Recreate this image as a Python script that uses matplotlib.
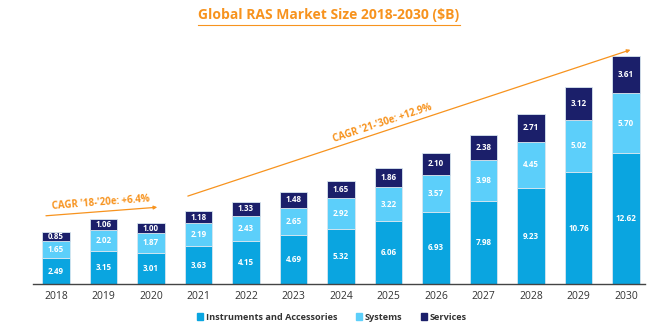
import matplotlib.pyplot as plt
from matplotlib.lines import Line2D
from matplotlib.patches import Patch

years = ['2018', '2019', '2020', '2021', '2022', '2023', '2024', '2025', '2026', '2027', '2028', '2029', '2030']
instruments = [2.49, 3.15, 3.01, 3.63, 4.15, 4.69, 5.32, 6.06, 6.93, 7.98, 9.23, 10.76, 12.62]
systems = [1.65, 2.02, 1.87, 2.19, 2.43, 2.65, 2.92, 3.22, 3.57, 3.98, 4.45, 5.02, 5.70]
services = [0.85, 1.06, 1.00, 1.18, 1.33, 1.48, 1.65, 1.86, 2.10, 2.38, 2.71, 3.12, 3.61]

c_inst = '#0aa5e0'
c_sys = '#5ccffa'
c_serv = '#1b1f6a'
orange = '#f7931e'

plt.rcParams['font.family'] = ['Open Sans', 'DejaVu Sans']

fig = plt.figure(figsize=(6.57, 3.29), dpi=100)
# axes spans px 33..645 horizontally, baseline at px 284
ax = fig.add_axes([33 / 657, 45 / 329, 612 / 657, 244 / 329])

x = list(range(len(years)))
w = 0.57
ax.bar(x, instruments, w, color=c_inst, edgecolor='#d8e6ef', linewidth=0.6)
bot2 = [a for a in instruments]
ax.bar(x, systems, w, bottom=bot2, color=c_sys, edgecolor='#d8e6ef', linewidth=0.6)
bot3 = [a + b for a, b in zip(instruments, systems)]
ax.bar(x, services, w, bottom=bot3, color=c_serv, edgecolor='#d8e6ef', linewidth=0.6)

for i in x:
    ax.text(i, instruments[i] / 2, '%.2f' % instruments[i], ha='center', va='center',
            color='white', fontsize=5.8, fontweight='bold')
    ax.text(i, bot2[i] + systems[i] / 2, '%.2f' % systems[i], ha='center', va='center',
            color='white', fontsize=5.8, fontweight='bold')
    ax.text(i, bot3[i] + services[i] / 2, '%.2f' % services[i], ha='center', va='center',
            color='white', fontsize=5.8, fontweight='bold')

# px -> data: x = (px-56)/47.5, y = (284-py)/10.4
ax.set_xlim(-23 / 47.5, 589 / 47.5)
ax.set_ylim(0, 244 / 10.4)
for s in ['top', 'right', 'left']:
    ax.spines[s].set_visible(False)
ax.spines['bottom'].set_color('#444444')
ax.spines['bottom'].set_linewidth(1.0)
ax.set_yticks([])
ax.set_xticks(x)
ax.set_xticklabels(years, fontsize=7.5, color='#333333')
ax.tick_params(axis='x', length=0, pad=5)

# CAGR arrows
ax.annotate('', xy=(2.19, 7.4), xytext=(-0.27, 6.54),
            arrowprops=dict(arrowstyle='-|>', color=orange, lw=0.9, mutation_scale=5))
ax.text(0.95, 7.85, "CAGR '18-'20e: +6.4%", color=orange, fontsize=7, fontweight='bold',
        ha='center', va='center', rotation=4.4, rotation_mode='anchor')
ax.annotate('', xy=(12.15, 22.6), xytext=(2.72, 8.37),
            arrowprops=dict(arrowstyle='-|>', color=orange, lw=0.9, mutation_scale=5))
ax.text(6.88, 15.4, "CAGR '21-'30e: +12.9%", color=orange, fontsize=7, fontweight='bold',
        ha='center', va='center', rotation=18.3, rotation_mode='anchor')

# title with underline
fig.text(0.5, 1 - 15 / 329, 'Global RAS Market Size 2018-2030 ($B)', ha='center', va='center',
         color=orange, fontsize=10, fontweight='bold')
fig.add_artist(Line2D([198 / 657, 460 / 657], [1 - 25 / 329, 1 - 25 / 329], color=orange, lw=0.8))

handles = [Patch(color=c_inst, label='Instruments and Accessories'),
           Patch(color=c_sys, label='Systems'),
           Patch(color=c_serv, label='Services')]
leg = fig.legend(handles=handles, loc='center', bbox_to_anchor=(0.505, 1 - 317 / 329), ncol=3,
                 frameon=False, handlelength=0.7, handleheight=0.7, handletextpad=0.3,
                 columnspacing=2.0, prop={'size': 6.6, 'weight': 'bold'})
for t in leg.get_texts():
    t.set_color('#333333')

fig.savefig('out.png', dpi=100)
